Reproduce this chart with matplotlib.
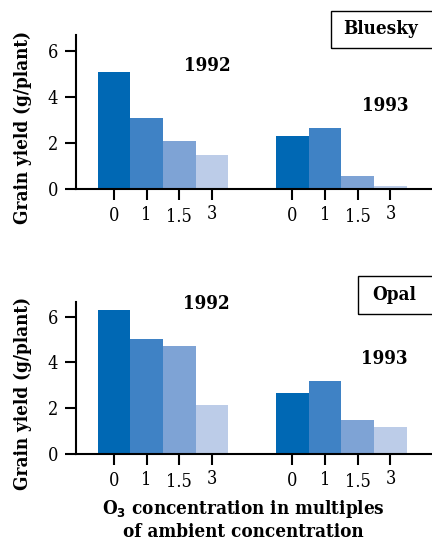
import matplotlib
matplotlib.use('Agg')
import matplotlib.pyplot as plt
from matplotlib.patches import Rectangle
from matplotlib.transforms import ScaledTranslation


# ==================== DATA ====================

ozone_levels = ['0', '1', '1.5', '3']
years = ['1992', '1993']

bluesky_1992 = [5.1, 3.1, 2.1, 1.5]
bluesky_1993 = [2.3, 2.65, 0.55, 0.15]

opal_1992 = [6.3, 5.0, 4.7, 2.15]
opal_1993 = [2.65, 3.2, 1.5, 1.2]

colors = ['#0068b4', '#3f82c5', '#7ea3d5', '#bccce8']

# tick label wobble as in the printed figure (points)
label_shift = [0, 1, -1, 1.5]

plt.rcParams['font.family'] = ['DejaVu Serif Condensed', 'DejaVu Serif']
plt.rcParams['font.stretch'] = 'condensed'
plt.rcParams['mathtext.fontset'] = 'custom'
plt.rcParams['mathtext.bf'] = 'DejaVu Serif Condensed:bold'

BOLD = 13.5
TICK = 13


def draw_panel(fig, ax, y1992, y1993, name, name_box, txt1992, txt1993, ymax):
    """Two groups of bars, one per year"""
    gap = 5.45
    pos1 = list(range(len(ozone_levels)))
    pos2 = [p + gap for p in pos1]

    ax.bar(pos1, y1992, width=1.0, color=colors, linewidth=0)
    ax.bar(pos2, y1993, width=1.0, color=colors, linewidth=0)

    ax.set_xlim(-1.16, 9.72)
    ax.set_ylim(0, ymax)
    ax.set_yticks([0, 2, 4, 6])
    ax.set_xticks(pos1 + pos2)
    ax.set_xticklabels(ozone_levels * 2)

    for side in ['top', 'right']:
        ax.spines[side].set_visible(False)
    for side in ['left', 'bottom']:
        ax.spines[side].set_linewidth(1.5)

    ax.tick_params(axis='both', length=8, width=1.5, labelsize=TICK)
    ax.tick_params(axis='x', pad=5)
    ax.tick_params(axis='y', pad=5)

    for lab, dy in zip(ax.get_xticklabels(), label_shift * 2):
        lab.set_transform(lab.get_transform() +
                          ScaledTranslation(0, dy / 72, fig.dpi_scale_trans))

    ax.set_ylabel('Grain yield (g/plant)', fontsize=BOLD, fontweight='bold', va='center')
    ax.yaxis.set_label_coords(-0.149, 0.40)

    # year labels
    ax.text(txt1992[0], txt1992[1], years[0], ha='center', va='center',
            fontsize=BOLD, fontweight='bold')
    ax.text(txt1993[0], txt1993[1], years[1], ha='center', va='center',
            fontsize=BOLD, fontweight='bold')

    # variety name in a box
    x0, y0, x1, y1 = name_box
    ax.add_patch(Rectangle((x0, y0), x1 - x0, y1 - y0, transform=ax.transAxes,
                           fill=False, edgecolor='black', linewidth=1.0, clip_on=False))
    ax.text((x0 + 0.985) / 2 + 0.005, (y0 + y1) / 2, name, transform=ax.transAxes,
            ha='center', va='center', fontsize=BOLD, fontweight='bold')


fig = plt.figure(figsize=(4.32, 5.43), dpi=100)

ax_top = fig.add_axes([0.1759, 0.6519, 0.8241, 0.2836])
ax_bot = fig.add_axes([0.1759, 0.1639, 0.8241, 0.2805])

draw_panel(fig, ax_top, bluesky_1992, bluesky_1993, 'Bluesky',
           (0.716, 0.916, 1.02, 1.156), (2.86, 5.35), (8.29, 3.6), 6.7)
draw_panel(fig, ax_bot, opal_1992, opal_1993, 'Opal',
           (0.792, 0.919, 1.02, 1.169), (2.83, 6.55), (8.27, 4.13), 6.65)

# x axis title under the lower panel
fig.text(0.563, 1 - 537 / 543,
         'O$_\\mathbf{3}$ concentration in multiples\nof ambient concentration',
         ha='center', va='baseline', fontsize=BOLD, fontweight='bold',
         multialignment='center', linespacing=1.25)

fig.savefig('out.png', dpi=100)
